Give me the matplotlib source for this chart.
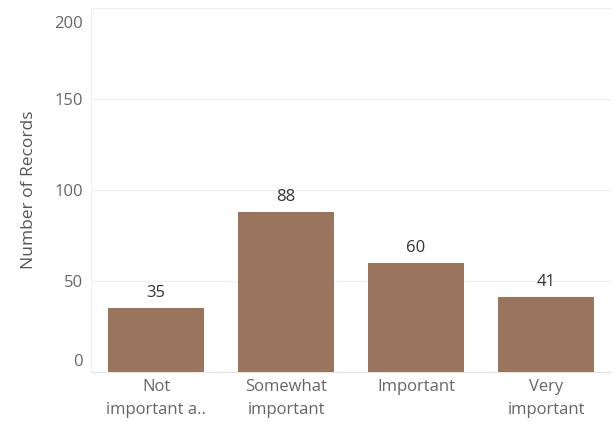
import matplotlib.pyplot as plt
import matplotlib.transforms as mtransforms
import numpy as np

# Chart data
categories = ['Not\nimportant a..', 'Somewhat\nimportant', 'Important', 'Very\nimportant']
records = [35, 88, 60, 41]
y_ticks = [0, 50, 100, 150, 200]

bar_color = '#9b745d'
plt.rcParams['font.family'] = ['Open Sans', 'DejaVu Sans']

fig = plt.figure(figsize=(6.16, 4.28), dpi=100)
ax = fig.add_axes([0.148, 0.131, 0.844, 0.850])

X = np.arange(len(categories))
ax.bar(X, records, width=0.74, color=bar_color, zorder=3)

# value labels above each bar
for x, v in zip(X, records):
    ax.text(x, v + 4, str(v), ha='center', va='bottom', fontsize=12, color='#333333', zorder=4)

ax.set_xlim(-0.5, len(categories) - 0.5)
ax.set_ylim(0, 200)
ax.set_yticks(y_ticks)
ax.set_xticks(X)
ax.set_xticklabels(categories, fontsize=12, color='#666666', linespacing=1.6)
ax.tick_params(axis='y', labelsize=12, labelcolor='#666666', length=0, pad=6)
ax.tick_params(axis='x', length=0, pad=5)

# Tableau keeps the end labels inside the axis
ylabels = ax.get_yticklabels()
ylabels[0].set_va('bottom')
ylabels[0].set_transform(ylabels[0].get_transform() + mtransforms.ScaledTranslation(0, 0.02, fig.dpi_scale_trans))
ylabels[-1].set_va('top')
ylabels[-1].set_transform(ylabels[-1].get_transform() + mtransforms.ScaledTranslation(0, -0.08, fig.dpi_scale_trans))

ax.yaxis.grid(True, color='#f0f0f0', linewidth=1, zorder=0)
for s in ['top', 'right']:
    ax.spines[s].set_visible(False)
ax.spines['left'].set_color('#f0f0f0')
ax.spines['bottom'].set_color('#e6e6e6')

ax.set_ylabel('Number of Records', fontsize=12.5, color='#555555', labelpad=12)

plt.savefig('out.png', dpi=100)
